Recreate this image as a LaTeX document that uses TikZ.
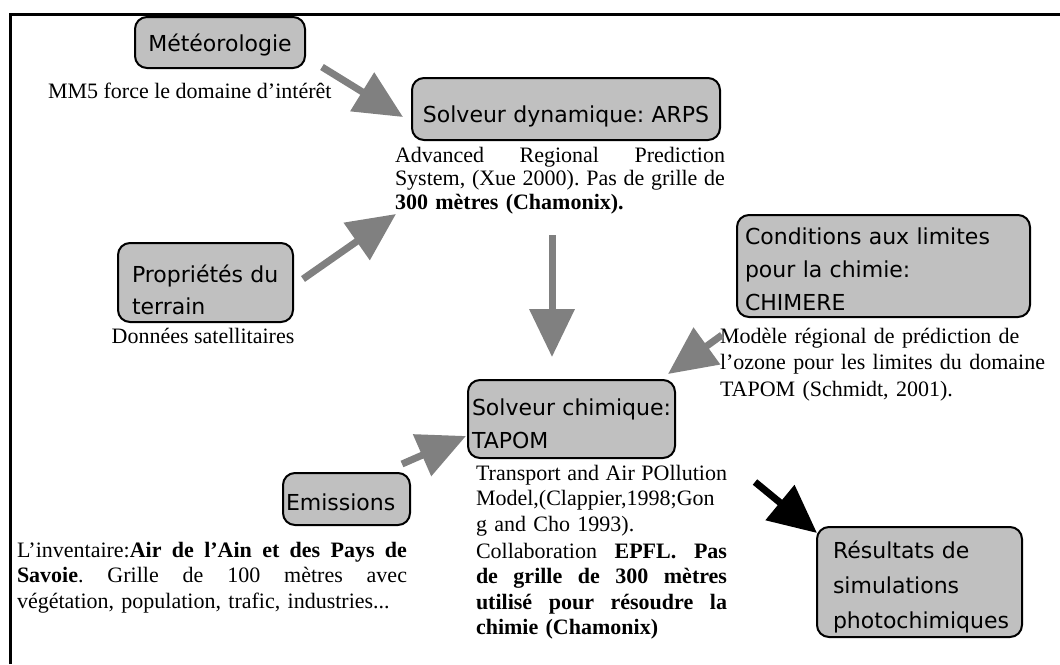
\documentclass[tikz,border=0pt]{standalone}
\usepackage{fontspec}
\setmainfont{Liberation Serif}
\newfontfamily\boxfont{DejaVu Sans}
\usetikzlibrary{arrows.meta,calc}
\definecolor{boxgray}{RGB}{192,192,192}
\definecolor{arrowgray}{RGB}{128,128,128}
\frenchspacing
\tikzset{
  box/.style={draw=black, line width=2pt, fill=boxgray, rounded corners=12pt, inner ysep=0pt, outer sep=0pt, anchor=base west, font=\boxfont\fontsize{22}{33}\selectfont},
  desc/.style={inner sep=0pt, outer sep=0pt, anchor=base west, align=left, font=\fontsize{22}{25.5}\selectfont},
  garrow/.style={draw=arrowgray, line width=7pt, -{Triangle[length=48pt,width=44pt]}},
  barrow/.style={draw=black, line width=7pt, -{Triangle[length=48pt,width=44pt]}},
}
\newcommand{\jl}[2]{\leavevmode\hbox to #1{\spaceskip=0.25em plus 1fil\xspaceskip=\spaceskip #2}}
\begin{document}
\begin{tikzpicture}[x=1pt,y=-1pt]
\useasboundingbox (0,0) rectangle (1060,664);
% frame
\draw[line width=3pt] (10,664) -- (10,14) -- (1060,14);
% boxes
\node[box, text width=170pt, inner xsep=0pt, align=center, text height=34pt, text depth=17pt] (met) at (135,51) {Météorologie};
\node[box, text width=308pt, inner xsep=0pt, align=center, text height=44pt, text depth=18pt] (arps) at (412,122) {Solveur~dynamique:~ARPS};
\node[box, text width=147pt, inner xsep=14pt, align=left, text height=39pt, text depth=40pt, font=\boxfont\fontsize{22}{32}\selectfont] (prop) at (118,282) {Propriétés~du\\terrain};
\node[box, text width=277pt, inner xsep=8pt, align=left, text height=29pt, text depth=73pt] (chim) at (737,244) {Conditions~aux~limites\\pour~la~chimie:\\CHIMERE};
\node[box, text width=199pt, inner xsep=4pt, align=left, text height=35pt, text depth=43pt] (tapom) at (468,415) {Solveur~chimique:\\TAPOM};
\node[box, text width=121pt, inner xsep=3pt, align=left, text height=37pt, text depth=15pt] (emis) at (283,510) {Emissions};
\node[box, text width=173pt, inner xsep=16pt, align=left, text height=31pt, text depth=79pt, font=\boxfont\fontsize{22}{35}\selectfont] (res) at (817,558) {Résultats~de\\simulations\\photochimiques};
% descriptions
\node[desc] (mm5) at (48,98) {MM5 force le domaine d’intérêt};
\node[desc, text width=400pt, font=\fontsize{22}{23.5}\selectfont] (arpsd) at (395,162) {\jl{330pt}{Advanced Regional Prediction}\\\jl{330pt}{System, (Xue 2000). Pas de grille de}\\\textbf{300 mètres (Chamonix).}};
\node[inner sep=0pt, anchor=base, font=\fontsize{22}{25.5}\selectfont] (propd) at (203,343) {Données satellitaires};
\node[desc, text width=400pt, font=\fontsize{22}{26.5}\selectfont] (chimd) at (720,343) {Modèle régional de prédiction de\\l’ozone pour les limites du domaine\\TAPOM (Schmidt, 2001).};
\node[desc, text width=400pt] (tapomd) at (476,480) {\jl{251pt}{Transport and Air POllution}\\Model,(Clappier,1998;Gon\\g and Cho 1993).\\[1.5pt]\jl{251pt}{Collaboration \textbf{EPFL. Pas}}\\\jl{251pt}{\textbf{de grille de 300 mètres}}\\\jl{251pt}{\textbf{utilisé pour résoudre la}}\\\textbf{chimie (Chamonix)}};
\node[desc, text width=450pt] (emisd) at (17,557) {\jl{390pt}{L’inventaire:\textbf{Air de l’Ain et des Pays de}}\\\jl{390pt}{\textbf{Savoie}. Grille de 100 mètres avec}\\végétation, population, trafic, industries...};
% arrows
\draw[garrow] ($(met.south east)+(17,-1)$) -- ($(arps.west)+(-9,8)$);
\draw[garrow] ($(prop.east)+(10,-3.5)$) -- ($(arps.south west)+(-16,74)$);
\draw[garrow] ($(arps.south)+(-14,95)$) -- ($(tapom.north)+(-19.5,-23)$);
\draw[garrow] ($(chim.south west)+(-15,18)$) -- ($(tapom.north east)+(-7,-6)$);
\draw[garrow] ($(emis.east)+(-8,-35)$) -- ($(tapom.west)+(-2,17)$);
\draw[barrow] ($(tapom.east)+(80,63)$) -- ($(res.north west)+(0,6)$);
\end{tikzpicture}
\end{document}
